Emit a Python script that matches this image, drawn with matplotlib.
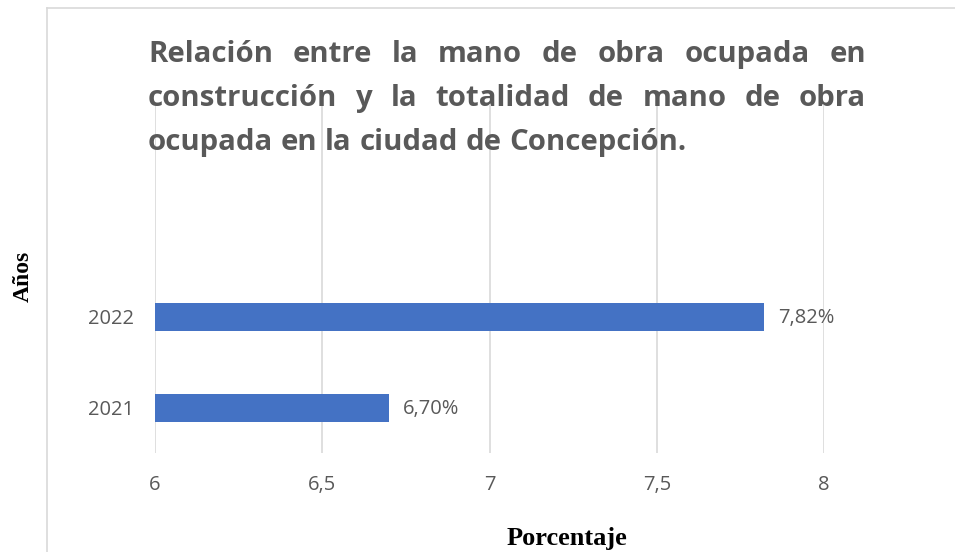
import matplotlib
matplotlib.use("Agg")
import matplotlib.pyplot as plt
from matplotlib.lines import Line2D

# datos
years = ["2021", "2022"]
values = [6.70, 7.82]
value_labels = ["6,70%", "7,82%"]
xticks = [6, 6.5, 7, 7.5, 8]
xtick_labels = ["6", "6,5", "7", "7,5", "8"]
title_lines = ["Relación entre la mano de obra ocupada en",
               "construcción y la totalidad de mano de obra",
               "ocupada en la ciudad de Concepción."]

W, H = 955, 552
fig = plt.figure(figsize=(W / 100, H / 100), dpi=100)
fig.patch.set_facecolor("white")

gray = "#595959"
grid = "#d9d9d9"
bar_color = "#4472C4"

# marco del grafico
fig.add_artist(Line2D([47 / W, 1], [1 - 8 / H, 1 - 8 / H], color=grid, lw=1.2))
fig.add_artist(Line2D([47 / W, 47 / W], [0, 1 - 8 / H], color=grid, lw=1.2))

ax = fig.add_axes([155 / W, 1 - 453 / H, (824 - 155) / W, (453 - 105) / H])
ypos = list(range(len(years)))
ax.barh(ypos, values, height=0.3, left=0, color=bar_color, zorder=3)
ax.set_xlim(6, 8)
ax.set_ylim(-0.495, 3.33)
ax.set_xticks(xticks)
ax.set_xticklabels(xtick_labels)
ax.set_yticks(ypos)
ax.set_yticklabels(years)
ax.tick_params(length=0, labelcolor=gray, labelsize=14.5)
ax.tick_params(axis="x", pad=16)
ax.tick_params(axis="y", pad=15)
for lab in ax.get_xticklabels() + ax.get_yticklabels():
    lab.set_family("Open Sans")
ax.xaxis.grid(True, color=grid, lw=1.2, zorder=0)
for s in ax.spines.values():
    s.set_visible(False)

for y, v, t in zip(ypos, values, value_labels):
    ax.annotate(t, (v, y), xytext=(10, -1), textcoords="offset points",
                va="center", ha="left", color=gray, fontsize=14.5,
                family="Open Sans")

fig.text(567 / W, 1 - 545 / H, "Porcentaje", ha="center", va="baseline",
         family="Liberation Serif", weight="bold", fontsize=19)
fig.text(23 / W, 1 - 276 / H, "Años", ha="center", va="center", rotation=90,
         family="Liberation Serif", weight="bold", fontsize=17)

# titulo justificado
fig.canvas.draw()
r = fig.canvas.get_renderer()
x0, x1 = 148, 866
baselines = [62, 106, 150]
tkw = dict(family="Open Sans", weight="bold", fontsize=21.2, color=gray, va="baseline")
for i, (line, yb) in enumerate(zip(title_lines, baselines)):
    words = line.split()
    texts = [fig.text(0, 1 - yb / H, w, **tkw) for w in words]
    widths = [t.get_window_extent(r).width for t in texts]
    if i < len(title_lines) - 1:
        gap = (x1 - x0 - sum(widths)) / (len(words) - 1)
    else:
        sp = fig.text(0, 0, "a a", **tkw)
        sa = fig.text(0, 0, "aa", **tkw)
        gap = sp.get_window_extent(r).width - sa.get_window_extent(r).width
        sp.remove()
        sa.remove()
    x = x0
    for t, w in zip(texts, widths):
        t.set_x(x / W)
        x += w + gap

fig.savefig("out.png", dpi=100)
